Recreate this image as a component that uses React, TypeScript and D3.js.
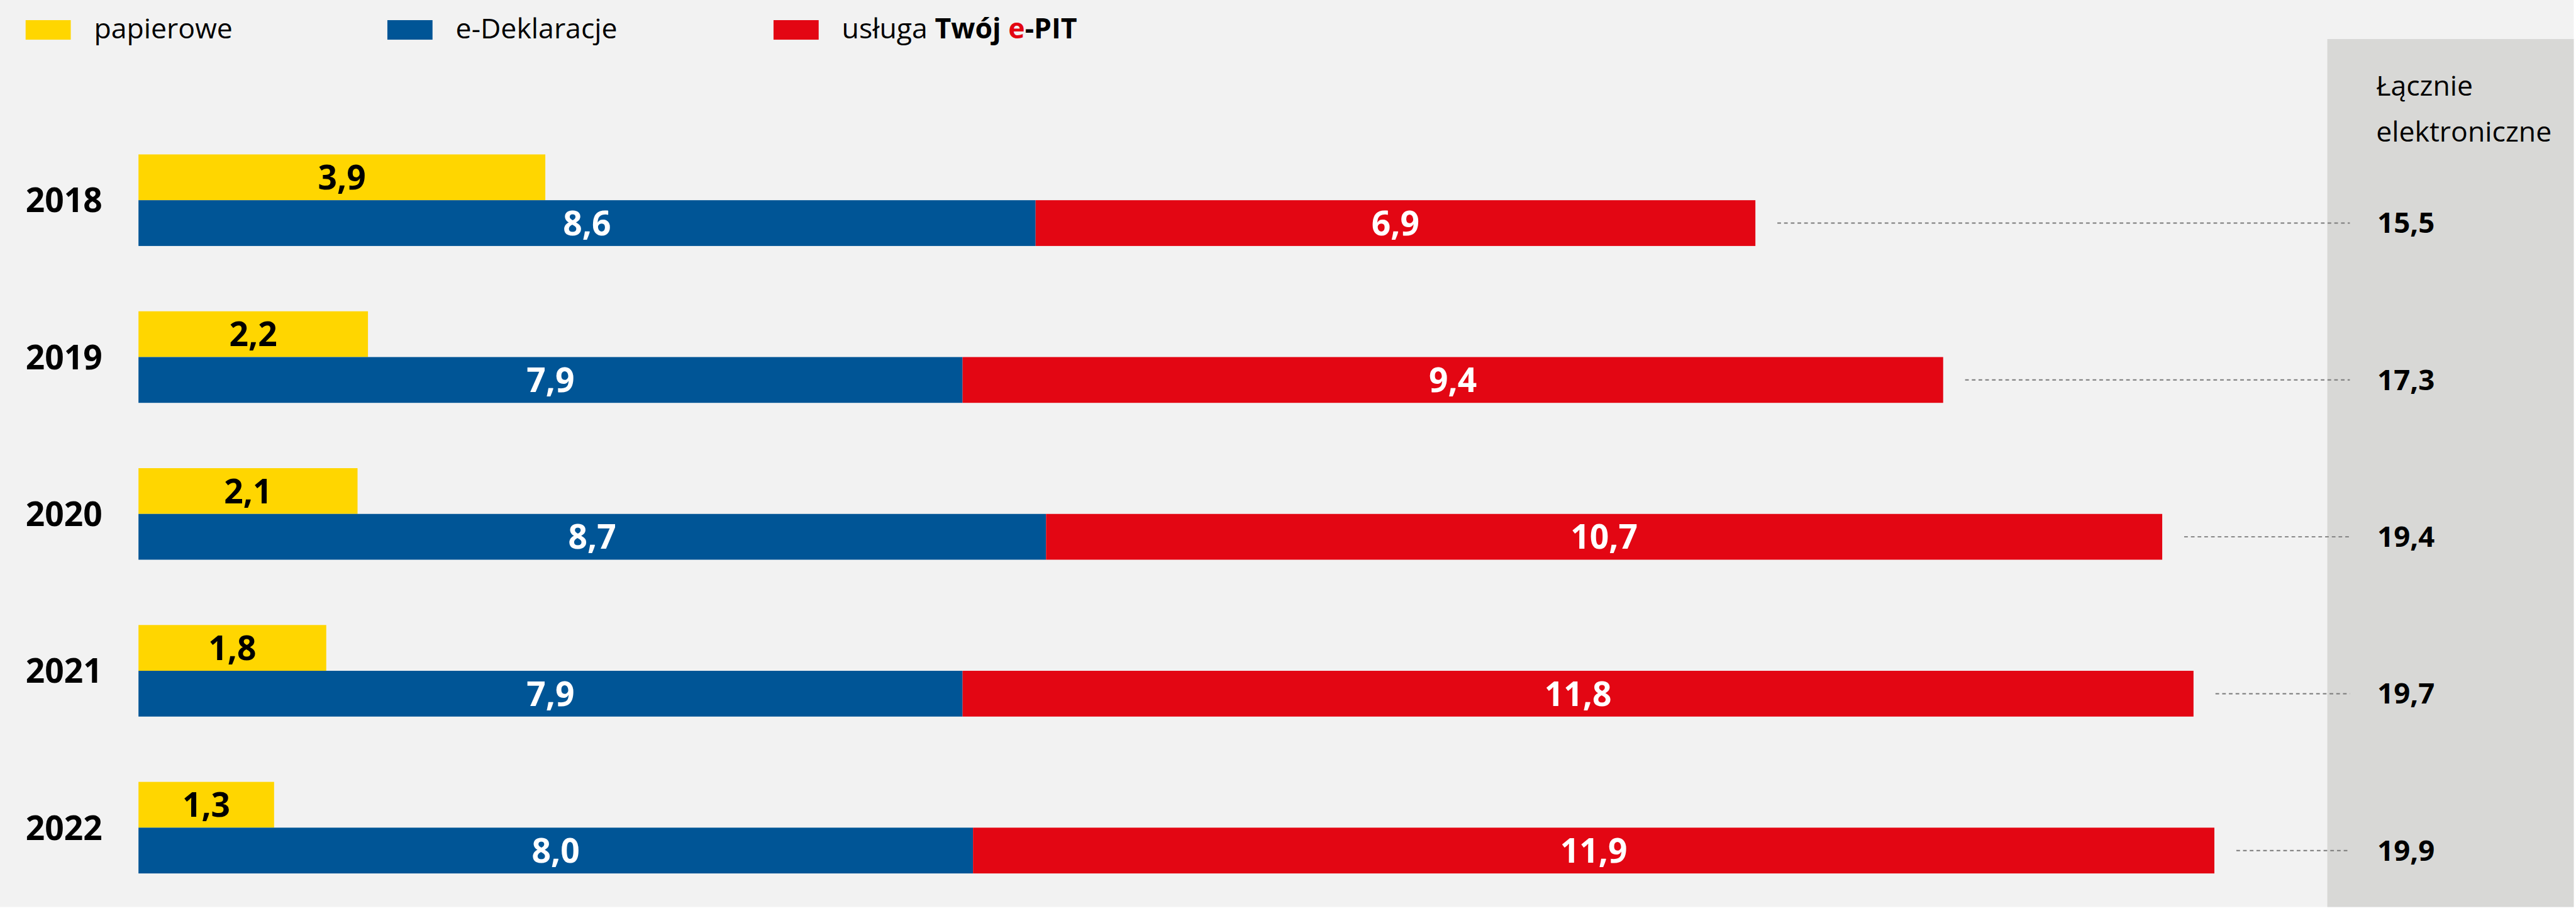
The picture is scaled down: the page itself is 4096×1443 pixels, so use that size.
import React from 'react'
import * as d3 from 'd3'

// liczba zeznań PIT (mln), wg sposobu złożenia
const years = ['2018', '2019', '2020', '2021', '2022']
const paper = [3.9, 2.2, 2.1, 1.8, 1.3]
const eDeklaracje = [8.6, 7.9, 8.7, 7.9, 8.0]
const twojEpit = [6.9, 9.4, 10.7, 11.8, 11.9]
const totals = [15.5, 17.3, 19.4, 19.7, 19.9]

const legendLabels = ['papierowe', 'e-Deklaracje', 'usługa ']

const YELLOW = '#ffd600'
const BLUE = '#005596'
const RED = '#e30613'
const BG = '#f2f2f2'
const PANEL = '#d8d8d6'
const FONT = '"Open Sans", "Noto Sans", sans-serif'

const fmt = (v: number) => v.toFixed(1).replace('.', ',')

export default function App() {
  const scale = 0.97
  const W = 4219
  const H = 1486
  const barH = 75

  const x = d3.scaleLinear().domain([0, 20]).range([227, 3647])
  const y = d3.scalePoint<string>().domain(years).range([253, 253 + 257 * 4])

  const legendX = [42, 635, 1268]
  const legendColors = [YELLOW, BLUE, RED]

  return (
    <svg
      width={4096}
      height={1443}
      style={{ position: 'absolute', left: 0, top: 0, display: 'block' }}
    >
      <g transform={`scale(${scale})`} fontFamily={FONT}>
        <rect x={0} y={0} width={W} height={H} fill={BG} />
        <rect x={3815} y={64} width={W - 3815} height={H - 64} fill={PANEL} />

        {/* legend */}
        {legendLabels.map((label, i) => (
          <g key={label}>
            <rect x={legendX[i]} y={33} width={74} height={32} fill={legendColors[i]} />
            <text x={legendX[i] + 112} y={63} fontSize={46} fill="#000">
              {label}
              {i === 2 ? (
                <>
                  <tspan fontWeight={700}>Twój </tspan>
                  <tspan fontWeight={700} fill={RED}>e</tspan>
                  <tspan fontWeight={700}>-PIT</tspan>
                </>
              ) : null}
            </text>
          </g>
        ))}

        {/* panel header */}
        <text x={3895} y={157} fontSize={46}>Łącznie</text>
        <text x={3895} y={232} fontSize={46}>elektroniczne</text>

        {years.map((yr, i) => {
          const top = y(yr) as number
          const blueTop = top + barH
          const mid = blueTop + barH / 2
          const x0 = x(0)
          const xPaper = x(paper[i])
          const xBlue = x(eDeklaracje[i])
          const xRed = x(eDeklaracje[i] + twojEpit[i])
          return (
            <g key={yr}>
              <text x={42} y={blueTop} dy="0.36em" fontSize={55} fontWeight={700}>
                {yr}
              </text>
              <rect x={x0} y={top} width={xPaper - x0} height={barH} fill={YELLOW} />
              <rect x={x0} y={blueTop} width={xBlue - x0} height={barH} fill={BLUE} />
              <rect x={xBlue} y={blueTop} width={xRed - xBlue} height={barH} fill={RED} />
              <text
                x={(x0 + xPaper) / 2}
                y={top + barH / 2}
                dy="0.36em"
                textAnchor="middle"
                fontSize={55}
                fontWeight={700}
                fill="#000"
              >
                {fmt(paper[i])}
              </text>
              <text
                x={(x0 + xBlue) / 2}
                y={mid}
                dy="0.36em"
                textAnchor="middle"
                fontSize={55}
                fontWeight={700}
                fill="#fff"
              >
                {fmt(eDeklaracje[i])}
              </text>
              <text
                x={(xBlue + xRed) / 2}
                y={mid}
                dy="0.36em"
                textAnchor="middle"
                fontSize={55}
                fontWeight={700}
                fill="#fff"
              >
                {fmt(twojEpit[i])}
              </text>
              <line
                x1={xRed + 36}
                x2={3852}
                y1={mid}
                y2={mid}
                stroke="#7a7a7a"
                strokeWidth={2}
                strokeDasharray="6 5"
              />
              <text x={3897} y={mid} dy="0.35em" fontSize={47} fontWeight={700}>
                {fmt(totals[i])}
              </text>
            </g>
          )
        })}
      </g>
    </svg>
  )
}
